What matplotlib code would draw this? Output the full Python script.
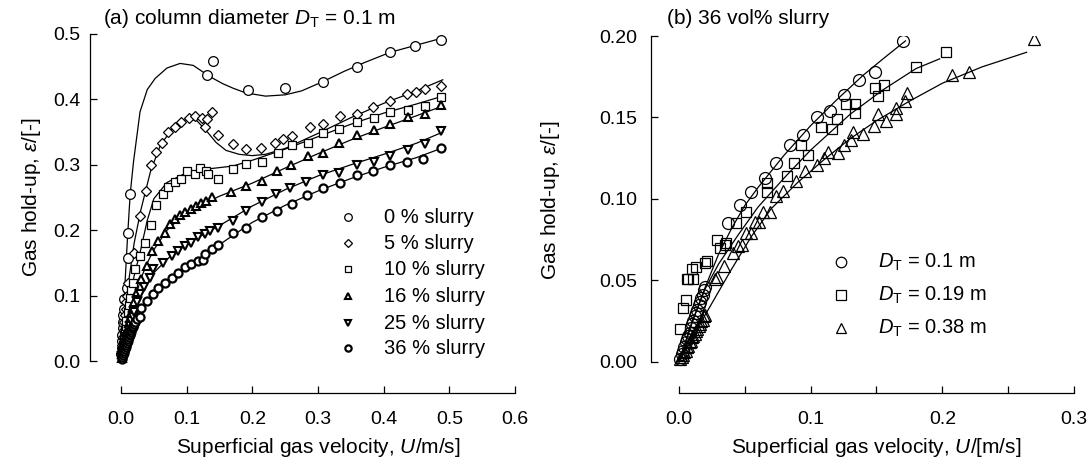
import matplotlib
matplotlib.use("Agg")
import matplotlib.pyplot as plt

plt.rcParams['font.family'] = ['Liberation Sans', 'DejaVu Sans']
plt.rcParams['mathtext.fontset'] = 'custom'
plt.rcParams['mathtext.rm'] = 'Liberation Sans'
plt.rcParams['mathtext.it'] = 'Liberation Sans:italic'
plt.rcParams['mathtext.bf'] = 'Liberation Sans:bold'

# ---------------- Panel (a): column diameter 0.1 m ----------------
u0 = [0.0005, 0.001, 0.0015, 0.002, 0.0025, 0.003, 0.0035, 0.004, 0.005, 0.009, 0.011, 0.011, 0.014,
      0.131, 0.140, 0.193, 0.249, 0.307, 0.359, 0.410, 0.447, 0.488]
e0 = [0.010, 0.020, 0.030, 0.040, 0.050, 0.060, 0.070, 0.080, 0.095, 0.112, 0.158, 0.196, 0.255,
      0.437, 0.459, 0.414, 0.417, 0.427, 0.449, 0.473, 0.481, 0.491]

u5 = [0.001, 0.002, 0.003, 0.004, 0.005, 0.006, 0.007, 0.008, 0.009, 0.011, 0.020, 0.029, 0.038, 0.045, 0.054, 0.062,
      0.072, 0.082, 0.092, 0.104, 0.113, 0.123, 0.128, 0.131, 0.139, 0.148, 0.171, 0.191, 0.213, 0.234, 0.246, 0.260,
      0.288, 0.307, 0.333, 0.359, 0.384, 0.410, 0.435, 0.450, 0.463, 0.488]
e5 = [0.012, 0.024, 0.036, 0.048, 0.060, 0.070, 0.080, 0.090, 0.100, 0.120, 0.165, 0.222, 0.260, 0.300, 0.319, 0.333,
      0.350, 0.358, 0.366, 0.371, 0.375, 0.372, 0.358, 0.370, 0.381, 0.346, 0.332, 0.324, 0.326, 0.334, 0.340, 0.344,
      0.358, 0.362, 0.375, 0.378, 0.389, 0.397, 0.408, 0.411, 0.416, 0.420]

u10 = [0.001, 0.002, 0.003, 0.004, 0.005, 0.006, 0.007, 0.008, 0.010, 0.012, 0.014, 0.016, 0.018, 0.022, 0.029, 0.037,
       0.045, 0.054, 0.064, 0.072, 0.082, 0.092, 0.101, 0.113, 0.121, 0.129, 0.133, 0.148, 0.170, 0.191, 0.215, 0.239,
       0.261, 0.285, 0.307, 0.332, 0.359, 0.385, 0.409, 0.437, 0.463, 0.488]
e10 = [0.008, 0.016, 0.024, 0.032, 0.040, 0.047, 0.054, 0.061, 0.075, 0.086, 0.097, 0.108, 0.119, 0.140, 0.160, 0.181,
       0.208, 0.238, 0.255, 0.266, 0.273, 0.278, 0.291, 0.286, 0.295, 0.290, 0.286, 0.279, 0.294, 0.301, 0.305, 0.318,
       0.330, 0.334, 0.348, 0.354, 0.365, 0.371, 0.381, 0.384, 0.390, 0.403]

u16 = [0.001, 0.002, 0.003, 0.004, 0.005, 0.006, 0.007, 0.008, 0.009, 0.010, 0.012, 0.014, 0.016, 0.018, 0.020, 0.025,
       0.031, 0.039, 0.047, 0.057, 0.067, 0.075, 0.082, 0.090, 0.098, 0.106, 0.114, 0.122, 0.130, 0.138, 0.168, 0.191,
       0.214, 0.237, 0.259, 0.285, 0.307, 0.332, 0.359, 0.385, 0.409, 0.437, 0.463, 0.488]
e16 = [0.005, 0.010, 0.015, 0.020, 0.025, 0.030, 0.035, 0.040, 0.045, 0.050, 0.058, 0.066, 0.074, 0.082, 0.090, 0.105,
       0.125, 0.145, 0.168, 0.183, 0.196, 0.210, 0.217, 0.224, 0.228, 0.233, 0.237, 0.241, 0.245, 0.250, 0.259, 0.268,
       0.275, 0.291, 0.299, 0.314, 0.318, 0.334, 0.346, 0.353, 0.362, 0.373, 0.377, 0.391]

u25 = [0.001, 0.002, 0.003, 0.004, 0.005, 0.006, 0.007, 0.008, 0.009, 0.010, 0.012, 0.014, 0.016, 0.018, 0.020, 0.025,
       0.029, 0.035, 0.044, 0.049, 0.064, 0.077, 0.087, 0.097, 0.107, 0.118, 0.128, 0.135, 0.148, 0.171, 0.191, 0.214,
       0.236, 0.258, 0.281, 0.307, 0.332, 0.359, 0.385, 0.410, 0.437, 0.463, 0.488]
e25 = [0.004, 0.008, 0.012, 0.016, 0.020, 0.024, 0.028, 0.032, 0.036, 0.040, 0.047, 0.054, 0.061, 0.068, 0.075, 0.090,
       0.103, 0.113, 0.127, 0.140, 0.150, 0.160, 0.168, 0.176, 0.181, 0.189, 0.194, 0.199, 0.203, 0.214, 0.230, 0.243,
       0.256, 0.265, 0.273, 0.284, 0.288, 0.299, 0.304, 0.314, 0.322, 0.332, 0.351]

u36 = [0.001, 0.002, 0.003, 0.004, 0.005, 0.006, 0.007, 0.008, 0.009, 0.010, 0.011, 0.012, 0.013, 0.014, 0.015, 0.016,
       0.017, 0.018, 0.019, 0.020, 0.022, 0.024, 0.029, 0.031, 0.039, 0.049, 0.057, 0.067, 0.077, 0.087, 0.097, 0.107,
       0.118, 0.125, 0.128, 0.138, 0.148, 0.171, 0.191, 0.214, 0.237, 0.260, 0.283, 0.307, 0.333, 0.359, 0.384, 0.409,
       0.435, 0.460, 0.488]
e36 = [0.003, 0.006, 0.009, 0.012, 0.015, 0.018, 0.021, 0.024, 0.027, 0.030, 0.033, 0.036, 0.039, 0.042, 0.045, 0.048,
       0.050, 0.052, 0.054, 0.056, 0.060, 0.064, 0.068, 0.081, 0.091, 0.102, 0.112, 0.119, 0.127, 0.135, 0.143, 0.148,
       0.153, 0.155, 0.163, 0.171, 0.178, 0.195, 0.204, 0.220, 0.230, 0.240, 0.254, 0.264, 0.272, 0.284, 0.291, 0.299,
       0.304, 0.309, 0.326]

# fitted curves
fu0 = [0, 0.004, 0.010, 0.014, 0.019, 0.029, 0.040, 0.052, 0.070, 0.090, 0.110, 0.135, 0.155, 0.171, 0.190, 0.220, 0.250,
       0.275, 0.307, 0.340, 0.370, 0.410, 0.450, 0.490]
fe0 = [0, 0.080, 0.190, 0.255, 0.304, 0.381, 0.415, 0.432, 0.448, 0.455, 0.452, 0.435, 0.424, 0.417, 0.410, 0.405, 0.407,
       0.413, 0.427, 0.443, 0.456, 0.472, 0.483, 0.494]
fu5 = [0, 0.005, 0.010, 0.020, 0.030, 0.045, 0.060, 0.080, 0.100, 0.115, 0.130, 0.145, 0.160, 0.180, 0.200, 0.220, 0.250,
       0.300, 0.350, 0.400, 0.450, 0.490]
fe5 = [0, 0.060, 0.110, 0.180, 0.230, 0.290, 0.330, 0.358, 0.370, 0.368, 0.352, 0.334, 0.322, 0.316, 0.314, 0.316, 0.325,
       0.348, 0.372, 0.394, 0.413, 0.430]
fu10 = [0, 0.005, 0.010, 0.020, 0.030, 0.040, 0.050, 0.070, 0.100, 0.135, 0.170, 0.200, 0.250, 0.300, 0.350, 0.400,
        0.450, 0.490]
fe10 = [0, 0.040, 0.075, 0.130, 0.170, 0.215, 0.248, 0.273, 0.288, 0.294, 0.298, 0.307, 0.324, 0.343, 0.362, 0.379,
        0.393, 0.405]
fu16 = [0, 0.010, 0.020, 0.030, 0.040, 0.050, 0.070, 0.100, 0.150, 0.200, 0.250, 0.300, 0.350, 0.400, 0.450, 0.490]
fe16 = [0, 0.050, 0.090, 0.125, 0.150, 0.170, 0.200, 0.228, 0.252, 0.272, 0.295, 0.317, 0.338, 0.357, 0.375, 0.390]
fu25 = [0, 0.010, 0.020, 0.030, 0.050, 0.075, 0.100, 0.125, 0.150, 0.175, 0.200, 0.250, 0.300, 0.350, 0.400, 0.450, 0.490]
fe25 = [0, 0.040, 0.075, 0.100, 0.135, 0.160, 0.178, 0.193, 0.207, 0.222, 0.237, 0.262, 0.283, 0.300, 0.316, 0.333, 0.350]
fu36 = [0, 0.010, 0.020, 0.030, 0.040, 0.050, 0.075, 0.100, 0.125, 0.150, 0.175, 0.200, 0.250, 0.300, 0.350, 0.400,
        0.450, 0.490]
fe36 = [0, 0.030, 0.055, 0.078, 0.093, 0.103, 0.128, 0.145, 0.160, 0.178, 0.195, 0.212, 0.238, 0.260, 0.279, 0.296,
        0.311, 0.326]

labels_a = ['0 % slurry', '5 % slurry', '10 % slurry', '16 % slurry', '25 % slurry', '36 % slurry']

# ---------------- Panel (b): 36 vol% slurry ----------------
ub1 = [0.001, 0.002, 0.003, 0.004, 0.005, 0.006, 0.007, 0.008, 0.009, 0.010, 0.011, 0.012, 0.013, 0.014, 0.015, 0.016,
       0.017, 0.018, 0.019, 0.020, 0.037, 0.046, 0.055, 0.065, 0.074, 0.084, 0.094, 0.105, 0.115, 0.125, 0.137, 0.149,
       0.170]
eb1 = [0.002, 0.005, 0.007, 0.009, 0.012, 0.014, 0.016, 0.018, 0.021, 0.023, 0.025, 0.028, 0.030, 0.032, 0.035, 0.037,
       0.039, 0.041, 0.044, 0.046, 0.085, 0.096, 0.104, 0.113, 0.122, 0.133, 0.139, 0.150, 0.154, 0.164, 0.173, 0.178,
       0.197]
ub2 = [0.001, 0.003, 0.005, 0.006, 0.007, 0.010, 0.011, 0.013, 0.020, 0.021, 0.029, 0.031, 0.035, 0.036, 0.043, 0.051,
       0.067, 0.067, 0.082, 0.087, 0.093, 0.098, 0.108, 0.116, 0.120, 0.127, 0.134, 0.134, 0.149, 0.151, 0.156, 0.180,
       0.203]
eb2 = [0.020, 0.033, 0.038, 0.051, 0.051, 0.057, 0.051, 0.058, 0.061, 0.062, 0.075, 0.070, 0.072, 0.073, 0.085, 0.092,
       0.104, 0.110, 0.114, 0.122, 0.133, 0.127, 0.144, 0.143, 0.149, 0.158, 0.153, 0.158, 0.168, 0.163, 0.170, 0.181,
       0.190]
ub3 = [0.001, 0.002, 0.003, 0.004, 0.005, 0.006, 0.007, 0.008, 0.009, 0.010, 0.011, 0.012, 0.013, 0.014, 0.015, 0.016,
       0.017, 0.018, 0.019, 0.020, 0.027, 0.029, 0.034, 0.041, 0.045, 0.048, 0.051, 0.055, 0.058, 0.061, 0.064, 0.069,
       0.074, 0.079, 0.089, 0.096, 0.105, 0.110, 0.113, 0.121, 0.125, 0.131, 0.132, 0.140, 0.148, 0.151, 0.157, 0.165,
       0.165, 0.172, 0.173, 0.207, 0.220, 0.270]
eb3 = [0.0015, 0.003, 0.0045, 0.006, 0.007, 0.009, 0.010, 0.012, 0.013, 0.015, 0.016, 0.017, 0.019, 0.020, 0.022, 0.023,
       0.025, 0.026, 0.028, 0.029, 0.051, 0.052, 0.059, 0.067, 0.071, 0.072, 0.079, 0.079, 0.086, 0.086, 0.092, 0.092,
       0.102, 0.105, 0.111, 0.117, 0.121, 0.125, 0.129, 0.128, 0.133, 0.136, 0.141, 0.140, 0.145, 0.152, 0.148, 0.152,
       0.156, 0.160, 0.165, 0.176, 0.178, 0.198]

fbu1 = [0, 0.010, 0.020, 0.030, 0.040, 0.050, 0.060, 0.080, 0.100, 0.120, 0.140, 0.155, 0.172]
fbe1 = [0, 0.024, 0.046, 0.066, 0.082, 0.096, 0.107, 0.127, 0.145, 0.161, 0.176, 0.186, 0.197]
fbu2 = [0, 0.010, 0.020, 0.030, 0.045, 0.060, 0.080, 0.100, 0.130, 0.155, 0.180, 0.198]
fbe2 = [0, 0.025, 0.045, 0.060, 0.078, 0.095, 0.113, 0.130, 0.152, 0.167, 0.180, 0.186]
fbu3 = [0, 0.010, 0.020, 0.030, 0.040, 0.055, 0.070, 0.090, 0.110, 0.130, 0.150, 0.175, 0.200, 0.230, 0.264]
fbe3 = [0, 0.014, 0.029, 0.043, 0.057, 0.077, 0.094, 0.110, 0.124, 0.137, 0.148, 0.160, 0.171, 0.181, 0.190]

labels_b = [r'$D_\mathrm{T}$ = 0.1 m', r'$D_\mathrm{T}$ = 0.19 m', r'$D_\mathrm{T}$ = 0.38 m']

# ---------------- figure ----------------
W, H = 1091, 465
fig = plt.figure(figsize=(W / 100, H / 100), dpi=100)

AL, AR, AT, AB = 90, 515, 34, 393      # panel a box (px)
BL, BR, BT, BB = 651, 1074, 36, 393    # panel b box (px)


def frac(l, t, r, b):
    return [l / W, 1 - b / H, (r - l) / W, (b - t) / H]


axa = fig.add_axes(frac(AL, AT, AR, AB))
axb = fig.add_axes(frac(BL, BT, BR, BB))

FS_TICK = 14
FS_LAB = 15
FS_LEG = 14.5


def style(ax, xb, yb, ypad):
    for s in ['top', 'right']:
        ax.spines[s].set_visible(False)
    ax.spines['left'].set_bounds(*yb)
    ax.spines['bottom'].set_bounds(*xb)
    for s in ['left', 'bottom']:
        ax.spines[s].set_linewidth(0.9)
    ax.tick_params(direction='in', length=5, width=0.9, labelsize=FS_TICK)
    ax.tick_params(axis='x', pad=13)
    ax.tick_params(axis='y', pad=ypad)


# panel a
series_a = [(u0, e0, fu0, fe0, 'o', 7.0, 0.9),
            (u5, e5, fu5, fe5, 'D', 5.2, 0.9),
            (u10, e10, fu10, fe10, 's', 6.3, 0.9),
            (u16, e16, fu16, fe16, '^', 6.3, 1.5),
            (u25, e25, fu25, fe25, 'v', 6.3, 1.5),
            (u36, e36, fu36, fe36, 'o', 5.8, 1.6)]
for (u, e, fu, fe, m, ms, mew) in series_a:
    axa.plot(fu, fe, color='black', lw=0.9, zorder=2)
    axa.plot(u, e, ls='none', marker=m, ms=ms, mfc='white', mec='black', mew=mew, zorder=3)

axa.set_xlim(-(121 - AL) / 657, 0.6)
axa.set_ylim(-(AB - 361) / 654, 0.5)
axa.set_xticks([0.0, 0.1, 0.2, 0.3, 0.4, 0.5, 0.6])
axa.set_yticks([0.0, 0.1, 0.2, 0.3, 0.4, 0.5])
axa.set_xticklabels(['0.0', '0.1', '0.2', '0.3', '0.4', '0.5', '0.6'])
axa.set_yticklabels(['0.0', '0.1', '0.2', '0.3', '0.4', '0.5'])
style(axa, (0, 0.6), (0, 0.5), 7)
axa.set_xlabel(r'Superficial gas velocity, $U$/m/s]', fontsize=FS_LAB)
axa.set_ylabel(r'Gas hold-up, $\varepsilon$/[-]', fontsize=FS_LAB)
axa.xaxis.set_label_coords((318 - AL) / (AR - AL), -(436 - AB) / (AB - AT))
axa.yaxis.set_label_coords((43 - AL) / (AR - AL), (AB - 197) / (AB - AT))
fig.text(103 / W, 1 - 18 / H, r'(a) column diameter $D_\mathrm{T}$ = 0.1 m', fontsize=FS_LAB, va='center', ha='left')

leg_a_y = [217, 243, 269, 296, 323, 348]
for (s, lab, yy) in zip(series_a, labels_a, leg_a_y):
    yf = (AB - yy) / (AB - AT)
    axa.plot([(348 - AL) / (AR - AL)], [yf], transform=axa.transAxes, ls='none', marker=s[4], ms=s[5] * 0.78,
             mfc='white', mec='black', mew=s[6], clip_on=False)
    axa.text((384 - AL) / (AR - AL), yf, lab, transform=axa.transAxes, fontsize=FS_LEG, va='center', ha='left')

# panel b
series_b = [(ub1, eb1, fbu1, fbe1, 'o', 8.6, 0.9),
            (ub2, eb2, fbu2, fbe2, 's', 7.8, 0.9),
            (ub3, eb3, fbu3, fbe3, '^', 8.2, 0.9)]
for (u, e, fu, fe, m, ms, mew) in series_b:
    axb.plot(fu, fe, color='black', lw=0.9, zorder=2)
    axb.plot(u, e, ls='none', marker=m, ms=ms, mfc='none', mec='black', mew=mew, zorder=3)

axb.set_xlim(-(679 - BL) / 1317, 0.3)
axb.set_ylim(-(BB - 362) / 1625, 0.2)
axb.set_xticks([0.0, 0.05, 0.1, 0.15, 0.2, 0.25, 0.3])
axb.set_xticklabels(['0.0', '', '0.1', '', '0.2', '', '0.3'])
axb.set_yticks([0.0, 0.05, 0.10, 0.15, 0.20])
axb.set_yticklabels(['0.00', '0.05', '0.10', '0.15', '0.20'])
style(axb, (0, 0.3), (0, 0.2), 10)
axb.set_xlabel(r'Superficial gas velocity, $U$/[m/s]', fontsize=FS_LAB)
axb.set_ylabel(r'Gas hold-up, $\varepsilon$/[-]', fontsize=FS_LAB)
axb.xaxis.set_label_coords((876 - BL) / (BR - BL), -(436 - BB) / (BB - BT))
axb.yaxis.set_label_coords((562 - BL) / (BR - BL), (BB - 200) / (BB - BT))
fig.text(667 / W, 1 - 18 / H, '(b) 36 vol% slurry', fontsize=FS_LAB, va='center', ha='left')

leg_b_y = [262, 295, 328]
for (s, lab, yy) in zip(series_b, labels_b, leg_b_y):
    yf = (BB - yy) / (BB - BT)
    axb.plot([(841 - BL) / (BR - BL)], [yf], transform=axb.transAxes, ls='none', marker=s[4], ms=s[5] * 0.88,
             mfc='white', mec='black', mew=s[6], clip_on=False)
    axb.text((878 - BL) / (BR - BL), yf, lab, transform=axb.transAxes, fontsize=FS_LEG, va='center', ha='left')

fig.savefig('out.png', dpi=100)
